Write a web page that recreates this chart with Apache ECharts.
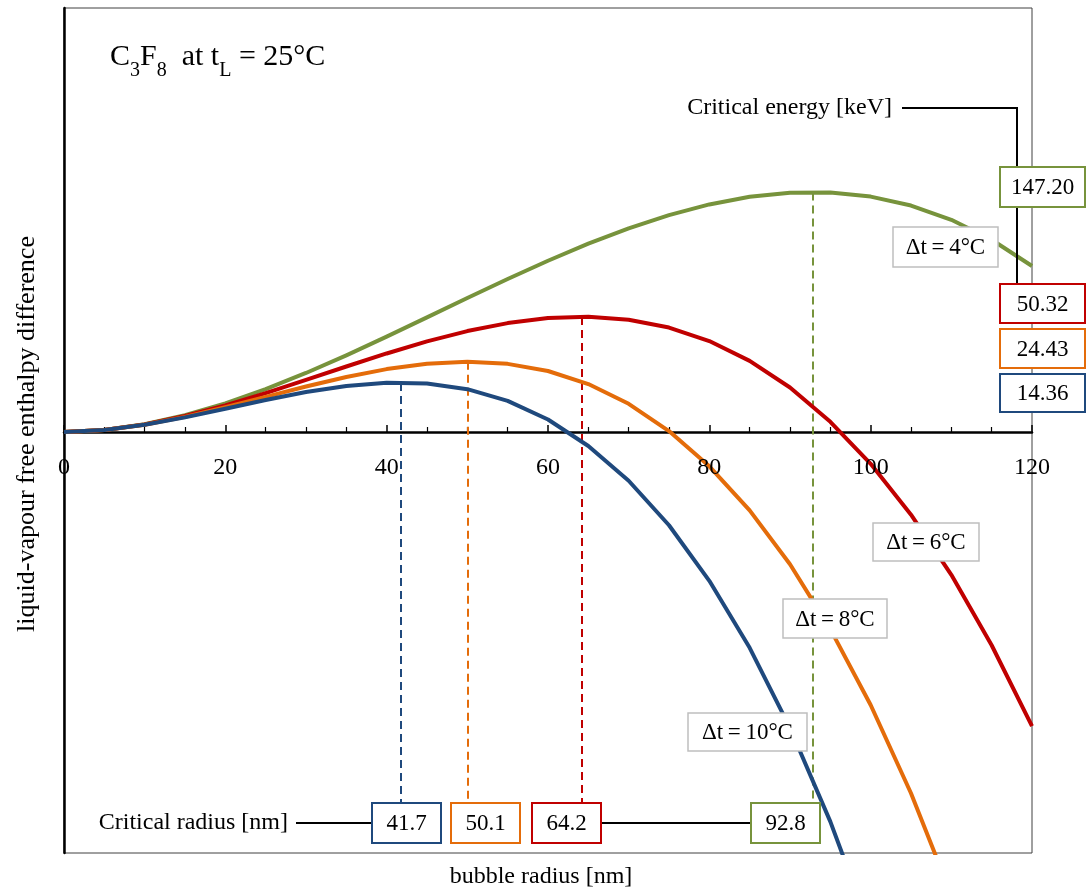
<!DOCTYPE html>
<html>
<head>
<meta charset="utf-8">
<script src="https://cdn.jsdelivr.net/npm/echarts@6/dist/echarts.min.js"></script>
<style>
html,body{margin:0;padding:0;background:#fff;}
#chart{width:1086px;height:890px;}
</style>
</head>
<body>
<div id="chart"></div>
<script>
// ---- data (y in arbitrary relative units) ----
const radius = [0,5,10,15,20,25,30,35,40,45,50,55,60,65,70,75,80,85,90,95,100,105,110,115,120];
const dt4  = [0,0.48,1.83,3.96,6.75,10.11,13.92,18.08,22.48,27.02,31.59,36.08,40.39,44.41,48.03,51.15,53.67,55.47,56.45,56.50,55.52,53.41,50.05,45.33,39.16];
const dt6  = [0,0.47,1.77,3.76,6.28,9.16,12.27,15.44,18.52,21.36,23.80,25.68,26.87,27.19,26.49,24.63,21.45,16.78,10.49,2.41,-7.5,-19.5,-33.7,-50.3,-69.4];
const dt8  = [0,0.46,1.72,3.57,5.82,8.27,10.72,12.97,14.83,16.10,16.58,16.07,14.38,11.31,6.65,0.22,-8.1,-18.5,-31.2,-46.5,-64.4,-85.2,-109.2];
const dt10 = [0,0.46,1.69,3.44,5.48,7.55,9.43,10.86,11.61,11.44,10.10,7.35,2.95,-3.3,-11.5,-22.0,-35.1,-50.9,-69.8,-91.9,-117.5];
const seriesNames = ['Δt\u2009=\u20094°C','Δt\u2009=\u20096°C','Δt\u2009=\u20098°C','Δt\u2009=\u200910°C'];
const critRadius = [92.8, 64.2, 50.1, 41.7];
const critRadiusLabels = ['92.8','64.2','50.1','41.7'];
const critEnergyLabels = ['147.20','50.32','24.43','14.36'];
const xTicks = [0,20,40,60,80,100,120];

const colors = ['#77933C','#C00000','#E46C0A','#1F497D'];
const FONT = 'Liberation Serif';
const allData = [dt4, dt6, dt8, dt10];

function interp(arr, r){
  for (let i=0;i<arr.length-1;i++){
    if (radius[i] <= r && r <= radius[i+1]){
      const t = (r-radius[i])/(radius[i+1]-radius[i]);
      return arr[i] + t*(arr[i+1]-arr[i]);
    }
  }
  return 0;
}

const chart = echarts.init(document.getElementById('chart'), null, {renderer:'canvas'});

function buildSeries(yBottom){
  return allData.map((d,k)=>({
    name: seriesNames[k],
    type:'line',
    data: d.map((v,i)=>[radius[i], v]),
    showSymbol:false, symbol:'none',
    clip:true,
    z: 3,
    lineStyle:{color:colors[k], width:4, join:'round'},
    itemStyle:{color:colors[k]},
    markLine: yBottom===null ? undefined : {
      silent:true, symbol:['none','none'], z:2,
      label:{show:false},
      lineStyle:{color:colors[k], width:2, type:[8,5]},
      data:[[{coord:[critRadius[k], interp(d, critRadius[k])]},{coord:[critRadius[k], yBottom]}]]
    }
  }));
}

function box(x,y,w,h,stroke,lw,label,fs){
  return [
    {type:'rect', z:50, shape:{x:x,y:y,width:w,height:h}, style:{fill:'#fff', stroke:stroke, lineWidth:lw}},
    {type:'text', z:51, x:x+w/2, y:y+h/2+1, style:{text:label, fill:'#000', font:(fs||23)+'px "'+FONT+'"', align:'center', verticalAlign:'middle'}}
  ];
}

const graphics = [];
// title
graphics.push({type:'text', z:60, x:110, y:42, style:{
  text:'{n|C}{s|3}{n|F}{s|8}{n|  at t}{s|L}{n| = 25°C}',
  rich:{
    n:{fontFamily:FONT, fontSize:30, lineHeight:36, verticalAlign:'top', fill:'#000', color:'#000'},
    s:{fontFamily:FONT, fontSize:20, lineHeight:22, verticalAlign:'top', padding:[19,0,0,0], fill:'#000', color:'#000'}
  }
}});
// critical energy label + connector
graphics.push({type:'text', z:60, x:892, y:108, style:{text:'Critical energy [keV]', font:'24px "'+FONT+'"', fill:'#000', align:'right', verticalAlign:'middle'}});
graphics.push({type:'polyline', z:40, shape:{points:[[902,108],[1017,108],[1017,285]]}, style:{stroke:'#000', lineWidth:2, fill:null}});
// right-side energy boxes
const rightBoxY = [167, 284, 329, 374];
const rightBoxH = [40, 39, 39, 38];
for (let k=0;k<4;k++) graphics.push(...box(1000, rightBoxY[k], 85, rightBoxH[k], colors[k], 2, critEnergyLabels[k]));
// critical radius label + connectors
graphics.push({type:'text', z:60, x:288, y:823, style:{text:'Critical radius [nm]', font:'24px "'+FONT+'"', fill:'#000', align:'right', verticalAlign:'middle'}});
graphics.push({type:'line', z:40, shape:{x1:296,y1:823,x2:372,y2:823}, style:{stroke:'#000', lineWidth:2}});
graphics.push({type:'line', z:40, shape:{x1:600,y1:823,x2:751,y2:823}, style:{stroke:'#000', lineWidth:2}});
const bottomBoxX = [751, 532, 451, 372];
for (let k=0;k<4;k++) graphics.push(...box(bottomBoxX[k], 803, 69, 40, colors[k], 2, critRadiusLabels[k]));
// delta-t labels
const dtBoxes = [[893,227,105,40],[873,523,106,38],[783,599,104,39],[688,713,119,38]];
for (let k=0;k<4;k++){
  const b = dtBoxes[k];
  graphics.push(...box(b[0], b[1], b[2], b[3], '#BFBFBF', 1.5, seriesNames[k], 23));
}
// axis titles
graphics.push({type:'text', z:60, x:541, y:877, style:{text:'bubble radius [nm]', font:'24px "'+FONT+'"', fill:'#000', align:'center', verticalAlign:'middle'}});
graphics.push({type:'text', z:60, x:27, y:434, rotation:Math.PI/2, style:{text:'liquid-vapour free enthalpy difference', font:'26px "'+FONT+'"', fill:'#000', align:'center', verticalAlign:'middle'}});

const option = {
  animation:false,
  backgroundColor:'#fff',
  grid:{left:64, top:8, right:54, bottom:37, show:true, borderColor:'#404040', borderWidth:1, backgroundColor:'transparent'},
  xAxis:{
    type:'value', min:0, max:120, interval:20,
    axisLine:{show:true, onZero:true, lineStyle:{color:'#000', width:2.5}},
    axisTick:{show:true, inside:true, length:7, lineStyle:{color:'#000', width:1.5}},
    minorTick:{show:true, splitNumber:4, length:5, lineStyle:{color:'#000', width:1.2}},
    axisLabel:{show:false},
    splitLine:{show:false}
  },
  yAxis:{
    type:'value', min:-99.3, max:100,
    axisLine:{show:true, onZero:false, lineStyle:{color:'#000', width:2.5}},
    axisTick:{show:false}, axisLabel:{show:false}, splitLine:{show:false}
  },
  series: buildSeries(null),
  graphic: graphics
};
chart.setOption(option);
const yBottom = chart.convertFromPixel({gridIndex:0}, [0, 803])[1];
// x tick labels placed just below the zero axis line through the axis scale
const tickGraphics = xTicks.map(v=>{
  const p = chart.convertToPixel({gridIndex:0}, [v, 0]);
  return {type:'text', z:60, x:p[0], y:p[1]+36, style:{text:String(v), font:'24px "'+FONT+'"', fill:'#000', align:'center', verticalAlign:'middle'}};
});
chart.setOption({series: buildSeries(yBottom), graphic: graphics.concat(tickGraphics)});
</script>
</body>
</html>
